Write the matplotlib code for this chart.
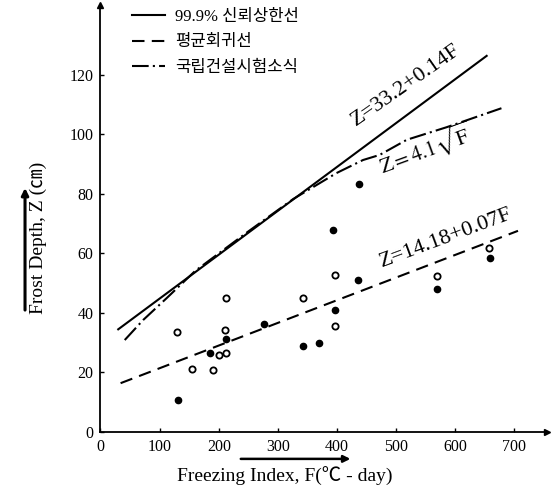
import numpy as np
import matplotlib
matplotlib.use("Agg")
import matplotlib.pyplot as plt

plt.rcParams['font.family'] = ['Liberation Serif', 'Noto Sans CJK KR', 'DejaVu Sans']
plt.rcParams['mathtext.fontset'] = 'stix'

# measured points: open / filled circles
open_F = [130, 155, 190, 200, 212, 210, 212, 342, 396, 396, 569, 657]
open_Z = [33.7, 21.1, 20.8, 25.8, 26.5, 34.3, 44.9, 44.9, 52.9, 35.6, 52.4, 61.8]
filled_F = [131, 185, 212, 277, 342, 369, 396, 394, 435, 437, 569, 658]
filled_Z = [10.6, 26.5, 31.2, 36.3, 28.9, 30.0, 41.0, 67.9, 51.1, 83.4, 48.1, 58.6]

# 99.9% upper confidence line
upper_F = [30, 653]
upper_Z = [34.5, 126.4]
# mean regression line
mean_F = [34, 706]
mean_Z = [16.4, 67.6]
# KICT formula curve
kict_F = [41, 72, 112, 160, 250, 326, 399, 444, 472, 518, 585, 678]
kict_Z = [30.9, 37.6, 45.0, 54.1, 67.4, 78.3, 87.0, 91.4, 93.1, 98.2, 102.4, 108.8]

legend_labels = ['99.9% 신뢰상한선', '평균회귀선', '국립건설시험소식']

fig = plt.figure(figsize=(5.53, 4.88), dpi=100)
ax = fig.add_axes([0.1817, 0.1148, 0.8074, 0.875])

l1, = ax.plot(upper_F, upper_Z, color='black', lw=1.5)
l2, = ax.plot(mean_F, mean_Z, color='black', lw=1.5, dashes=(6, 3.5))
l3, = ax.plot(kict_F, kict_Z, color='black', lw=1.5, dashes=(8, 2, 1, 2))

ax.plot(open_F, open_Z, 'o', ms=4.5, mfc='white', mec='black', mew=1.3)
ax.plot(filled_F, filled_Z, 'o', ms=4.5, color='black')

ax.text(517, 116.6, 'Z=33.2+0.14F', rotation=35, ha='center', va='center',
        rotation_mode='anchor', fontsize=16)
ax.text(549, 94.8, r'$\mathrm{Z=4.1}\sqrt{\mathrm{F}}$', rotation=20, ha='center',
        va='center', rotation_mode='anchor', fontsize=15)
ax.text(584, 65.2, 'Z=14.18+0.07F', rotation=20.5, ha='center', va='center',
        rotation_mode='anchor', fontsize=16)

ax.legend([l1, l2, l3], legend_labels, loc='upper left', bbox_to_anchor=(0.07, 0.99),
          frameon=False, fontsize=12, handlelength=2.0, handletextpad=0.6,
          labelspacing=0.55, borderpad=0, borderaxespad=0)

ax.set_xlim(0, 755)
ax.set_ylim(0, 143.5)
ax.set_xticks(np.arange(0, 701, 100))
ax.set_yticks(np.arange(0, 121, 20))
ax.tick_params(direction='in', length=3, width=1, labelsize=11.5, pad=5)
for s in ['top', 'right']:
    ax.spines[s].set_visible(False)
for s in ['left', 'bottom']:
    ax.spines[s].set_linewidth(1.3)

# axis arrows
ax.plot(1, 0, '>k', ms=5, transform=ax.transAxes, clip_on=False)
ax.plot(0, 1, '^k', ms=5, transform=ax.transAxes, clip_on=False)

ax.set_xlabel('Freezing Index, F(℃ - day)', fontsize=14)
ax.xaxis.set_label_coords(0.413, -0.082)
ax.set_ylabel('Frost Depth, Z (㎝)', fontsize=14)
ax.yaxis.set_label_coords(-0.12, 0.454)

ax.annotate('', xy=(0.566, -0.063), xytext=(0.308, -0.063), xycoords='axes fraction',
            arrowprops=dict(arrowstyle='-|>', color='black', lw=1.8, mutation_scale=10))
ax.annotate('', xy=(-0.169, 0.578), xytext=(-0.169, 0.279), xycoords='axes fraction',
            arrowprops=dict(arrowstyle='-|>', color='black', lw=2.2, mutation_scale=10))

fig.savefig('out.png', dpi=100)
